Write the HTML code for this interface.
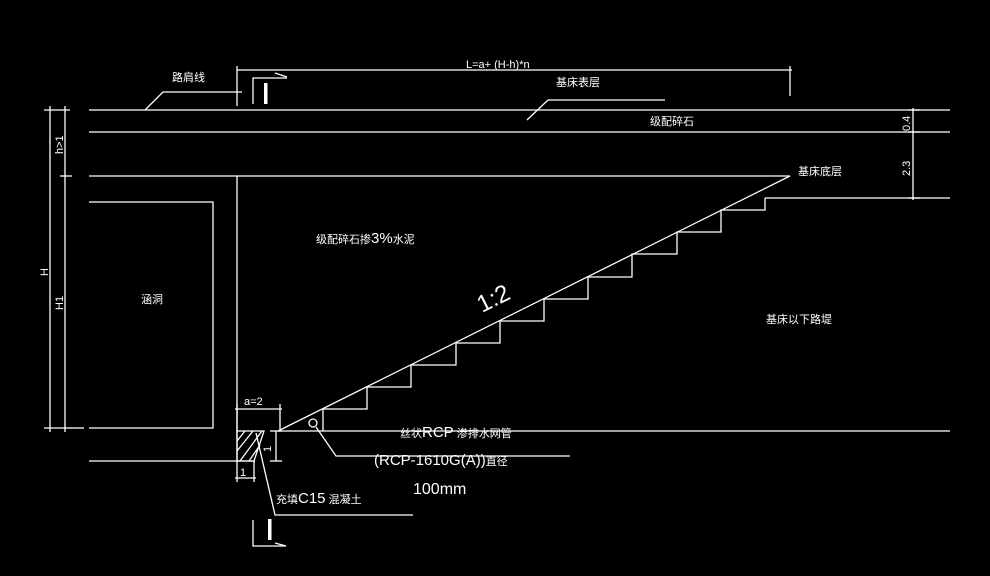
<!DOCTYPE html>
<html><head><meta charset="utf-8"><style>
html,body{margin:0;padding:0;background:#000;}
svg{display:block;}
text{font-family:"Liberation Sans","Noto Sans CJK SC",sans-serif;fill:#fff;}
</style></head><body>
<svg width="990" height="576" viewBox="0 0 990 576" xmlns="http://www.w3.org/2000/svg">
<g stroke="#fff" stroke-width="1.3" fill="none">
<!-- main horizontal lines -->
<line x1="89" y1="110" x2="950" y2="110"/>
<line x1="89" y1="132" x2="950" y2="132"/>
<line x1="89" y1="176" x2="790" y2="176"/>
<line x1="765" y1="198" x2="950" y2="198"/>
<line x1="278" y1="431" x2="950" y2="431"/>
<line x1="89" y1="461" x2="255" y2="461"/>
<!-- slope -->
<line x1="278" y1="431" x2="790" y2="176"/>
<!-- wall -->
<line x1="237" y1="176" x2="237" y2="461"/>
<!-- culvert box -->
<polyline points="89,202 213,202 213,428 89,428"/>
<line x1="70" y1="428" x2="84" y2="428"/>
<!-- steps -->
<polyline points="323,431 323,409 367,409 367,387 411,387 411,365 456,365 456,343 500,343 500,321 544,321 544,299 588,299 588,277 632,277 632,254 677,254 677,232 721,232 721,210 765,210 765,198"/>
<!-- left dims -->
<line x1="50" y1="106" x2="50" y2="432"/>
<line x1="65" y1="106" x2="65" y2="432"/>
<line x1="44" y1="110" x2="70" y2="110"/>
<line x1="60" y1="176" x2="72" y2="176"/>
<line x1="44" y1="428" x2="70" y2="428"/>
<!-- L dim -->
<line x1="237" y1="70" x2="792" y2="70"/>
<line x1="237" y1="66" x2="237" y2="106"/>
<line x1="790" y1="66" x2="790" y2="96"/>
<line x1="275" y1="73" x2="287" y2="77"/>
<!-- section mark top -->
<polyline points="253,104 253,78 287,78"/>
<!-- right dims -->
<line x1="913" y1="108" x2="913" y2="200"/>
<line x1="908" y1="110" x2="920" y2="110"/>
<line x1="908" y1="132" x2="920" y2="132"/>
<line x1="908" y1="198" x2="920" y2="198"/>
<!-- leaders -->
<polyline points="145,110 163,92 242,92"/>
<polyline points="527,120 548,100 665,100"/>
<!-- a=2 dim -->
<line x1="237" y1="404" x2="237" y2="431"/>
<line x1="280" y1="404" x2="280" y2="431"/>
<line x1="235" y1="409" x2="282" y2="409"/>
<!-- vertical 1 dim -->
<line x1="276" y1="431" x2="276" y2="461"/>
<line x1="270" y1="431" x2="282" y2="431"/>
<line x1="270" y1="461" x2="282" y2="461"/>
<!-- bottom 1 dim -->
<line x1="237" y1="461" x2="237" y2="482"/>
<line x1="254" y1="461" x2="254" y2="482"/>
<line x1="235" y1="478" x2="256" y2="478"/>
<!-- hatch -->
<polygon points="237,431 264,431 254,461 237,461"/>
<line x1="237" y1="441" x2="245" y2="431"/>
<line x1="237" y1="451" x2="253" y2="431"/>
<line x1="240" y1="461" x2="262" y2="431"/>
<line x1="249" y1="461" x2="260" y2="445"/>
<!-- C15 leader -->
<polyline points="256,433 275,515 413,515"/>
<!-- RCP -->
<circle cx="313" cy="423" r="4"/>
<polyline points="316,427 336,456 570,456"/>
<!-- bottom section mark -->
<polyline points="253,520 253,546 286,546"/>
<line x1="275" y1="543" x2="286" y2="546"/>
</g>
<rect x="264" y="83" width="3.5" height="21" fill="#fff"/>
<rect x="268" y="519" width="3.5" height="21" fill="#fff"/>
<g font-size="11">
<text x="172" y="81">路肩线</text>
<text x="466" y="68">L=a+ (H-h)*n</text>
<text x="556" y="86">基床表层</text>
<text x="650" y="125">级配碎石</text>
<text x="798" y="175">基床底层</text>
<text x="316" y="243">级配碎石掺<tspan font-size="15">3%</tspan>水泥</text>
<text x="766" y="323">基床以下路堤</text>
<text x="141" y="303">涵洞</text>
<text x="244" y="405">a=2</text>
<text x="400" y="437">丝状<tspan font-size="15">RCP</tspan> 渗排水网管</text>
<text x="374" y="465"><tspan font-size="15">(RCP-1610G(A))</tspan>直径</text>
<text x="413" y="494" font-size="16">100mm</text>
<text x="276" y="503">充填<tspan font-size="15">C15</tspan> 混凝土</text>
<text x="240" y="476">1</text>
<text x="0" y="0" transform="translate(271,452) rotate(-90)">1</text>
<text x="0" y="0" transform="translate(48,276) rotate(-90)">H</text>
<text x="0" y="0" transform="translate(63,310) rotate(-90)">H1</text>
<text x="0" y="0" transform="translate(63,154) rotate(-90)">h&gt;1</text>
<text x="0" y="0" transform="translate(910,131) rotate(-90)">0.4</text>
<text x="0" y="0" transform="translate(910,176) rotate(-90)">2.3</text>
</g>
<text x="0" y="0" font-size="24" transform="translate(482,313) rotate(-26.5)">1:2</text>
</svg>
</body></html>
